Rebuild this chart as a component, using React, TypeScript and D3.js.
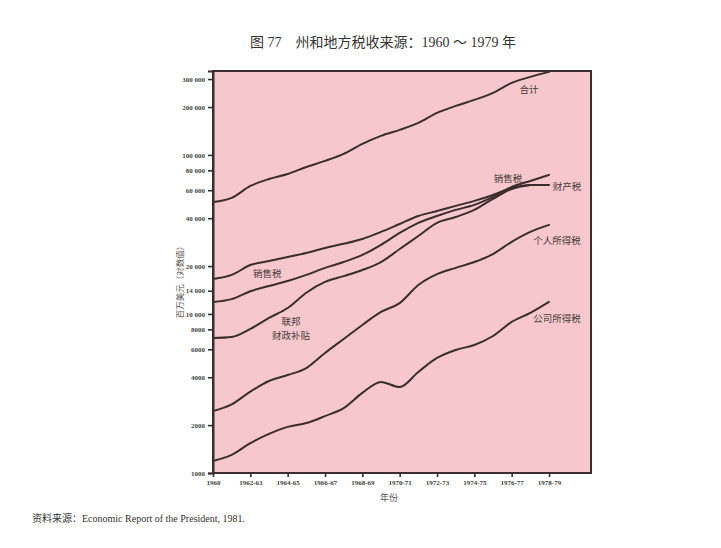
import { useEffect, useRef } from 'react';
import * as d3 from 'd3';

// Fiscal years (x) and revenue in millions of dollars (log y)
const years = [1960, 1961, 1962, 1963, 1964, 1965, 1966, 1967, 1968, 1969, 1970, 1971, 1972, 1973, 1974, 1975, 1976, 1977, 1978];

const totalTax = [50600, 53700, 63800, 70600, 75900, 84000, 91700, 101500, 117300, 131700, 143600, 159000, 183800, 203300, 221800, 245500, 283700, 309400, 332700];
const propertyTax = [16600, 17600, 20300, 21500, 22800, 24200, 26000, 27600, 29600, 32800, 36800, 41300, 44400, 47800, 51400, 56000, 62000, 64800, 64800];
const salesTax = [11900, 12400, 13900, 15000, 16100, 17600, 19500, 21200, 23500, 27200, 32300, 37400, 41300, 45100, 48500, 54400, 62900, 68600, 74900];
const federalAid = [7060, 7170, 8050, 9440, 10900, 13600, 15900, 17300, 18900, 21200, 25600, 30900, 37400, 40700, 45100, 52900, 61100, 64800];
const individualTax = [2450, 2700, 3250, 3790, 4130, 4570, 5680, 6960, 8530, 10300, 11700, 15200, 17800, 19500, 21200, 23800, 28400, 32800, 36300];
const corporateTax = [1190, 1300, 1540, 1760, 1950, 2060, 2280, 2560, 3190, 3740, 3470, 4320, 5290, 5940, 6380, 7270, 8910, 10150, 11900];

const xTicks = [1960, 1962, 1964, 1966, 1968, 1970, 1972, 1974, 1976, 1978];
const xTickLabels = ['1960', '1962-63', '1964-65', '1966-67', '1968-69', '1970-71', '1972-73', '1974-75', '1976-77', '1978-79'];

const yTicks = [1000, 2000, 4000, 6000, 8000, 10000, 14000, 20000, 40000, 60000, 80000, 100000, 200000, 300000];
const yTickLabels = ['1000', '2000', '4000', '6000', '8000', '10 000', '14 000', '20 000', '40 000', '60 000', '80 000', '100 000', '200 000', '300 000'];

// series labels, placed in data units [year, value]
const labelTexts = ['合计', '销售税', '财产税', '个人所得税', '公司所得税', '销售税', '联邦', '财政补贴'];
const labelYears = [1976.93, 1975.8, 1978.96, 1978.43, 1978.43, 1962.9, 1964.18, 1964.18];
const labelValues = [260000, 71700, 63800, 29200, 9440, 18100, 9040, 7380];

const INK = '#3b2d2d';
const CJK = '"Noto Sans CJK SC", sans-serif';
const SERIF = '"Liberation Serif", "DejaVu Serif", serif';

export default function App() {
  const svgRef = useRef<SVGSVGElement>(null);

  useEffect(() => {
    if (!svgRef.current) return;
    const svg = d3.select(svgRef.current);
    svg.selectAll('*').remove();

    const left = 213, right = 591, top = 71, bottom = 473;

    const x = d3.scaleLinear().domain([1960, 1980.25]).range([left, right]);
    const y = d3.scaleLog().domain([1000, 337000]).range([bottom, top]);

    // Title
    svg.append('text')
      .attr('x', 383).attr('y', 47)
      .attr('text-anchor', 'middle')
      .style('font-family', `"Liberation Serif", ${CJK}`)
      .style('font-size', '14px')
      .style('fill', '#333')
      .text('图 77　州和地方税收来源：1960 ～ 1979 年');

    // Plot background + frame
    svg.append('rect')
      .attr('x', left).attr('y', top)
      .attr('width', right - left).attr('height', bottom - top)
      .attr('fill', '#f6c8cd')
      .attr('stroke', INK)
      .attr('stroke-width', 2);

    // Y axis
    const yAxis = svg.append('g')
      .attr('transform', `translate(${left},0)`)
      .call(d3.axisLeft(y)
        .tickValues(yTicks)
        .tickSize(5)
        .tickPadding(3)
        .tickFormat((_, i) => yTickLabels[i]));
    yAxis.select('.domain').attr('stroke', INK).attr('stroke-width', 2);
    yAxis.selectAll('line').attr('stroke', INK).attr('stroke-width', 1.6);
    yAxis.selectAll('text')
      .style('font-family', SERIF)
      .style('font-size', '7px')
      .style('font-weight', 'bold')
      .style('fill', '#444');

    // X axis
    const xAxis = svg.append('g')
      .attr('transform', `translate(0,${bottom})`)
      .call(d3.axisBottom(x)
        .tickValues(xTicks)
        .tickSize(4)
        .tickPadding(3)
        .tickFormat((_, i) => xTickLabels[i]));
    xAxis.select('.domain').remove();
    xAxis.selectAll('line').attr('stroke', INK).attr('stroke-width', 1.6);
    xAxis.selectAll('text')
      .style('font-family', SERIF)
      .style('font-size', '7px')
      .style('font-weight', 'bold')
      .style('fill', '#444');

    // Axis titles
    svg.append('text')
      .attr('transform', 'translate(179,280) rotate(-90)')
      .attr('text-anchor', 'middle')
      .attr('dominant-baseline', 'central')
      .style('font-family', CJK)
      .style('font-size', '8.5px')
      .style('fill', '#555')
      .text('百万美元（对数值）');

    svg.append('text')
      .attr('x', 389).attr('y', 501)
      .attr('text-anchor', 'middle')
      .style('font-family', CJK)
      .style('font-size', '9px')
      .style('fill', '#555')
      .text('年份');

    // Lines
    const line = d3.line<number>()
      .x((_, i) => x(years[i]))
      .y(d => y(d))
      .curve(d3.curveMonotoneX);

    const series = [totalTax, propertyTax, salesTax, federalAid, individualTax, corporateTax];
    svg.append('g')
      .selectAll('path')
      .data(series)
      .enter()
      .append('path')
      .attr('d', d => line(d))
      .attr('fill', 'none')
      .attr('stroke', INK)
      .attr('stroke-width', 2)
      .attr('stroke-linejoin', 'round')
      .attr('stroke-linecap', 'round');

    // Series labels
    svg.append('g')
      .selectAll('text')
      .data(labelTexts)
      .enter()
      .append('text')
      .attr('x', (_, i) => x(labelYears[i]))
      .attr('y', (_, i) => y(labelValues[i]))
      .attr('text-anchor', 'middle')
      .attr('dominant-baseline', 'central')
      .style('font-family', CJK)
      .style('font-size', '9.5px')
      .style('fill', '#4a3a3a')
      .text(d => d);

    // Source note
    svg.append('text')
      .attr('x', 32).attr('y', 522)
      .style('font-family', `"Liberation Serif", ${CJK}`)
      .style('font-size', '10px')
      .style('fill', '#333')
      .text('资料来源：Economic Report of the President, 1981.');
  }, []);

  return (
    <svg
      ref={svgRef}
      width={721}
      height={548}
      style={{ position: 'absolute', left: 0, top: 0, background: '#fff' }}
    />
  );
}
